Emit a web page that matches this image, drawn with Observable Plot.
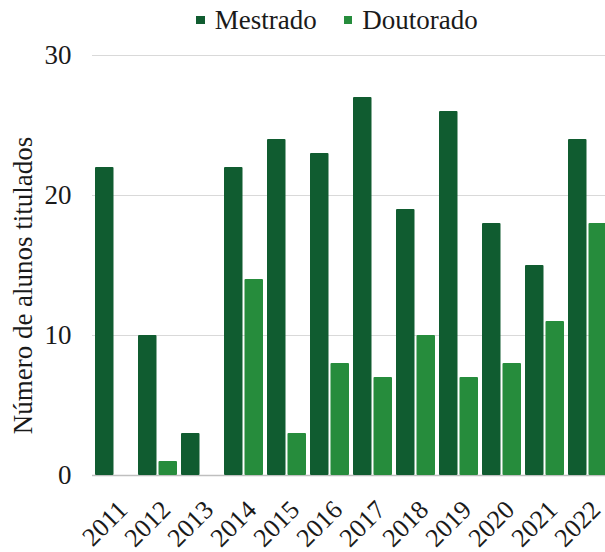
<!DOCTYPE html>
<html><head><meta charset="utf-8">
<script src="https://cdn.jsdelivr.net/npm/d3@7"></script>
<script src="https://cdn.jsdelivr.net/npm/@observablehq/plot@0.6"></script>
<style>
html,body{margin:0;padding:0;background:#fff;overflow:hidden;width:605px;height:552px}
body{font-family:"Liberation Serif","Times New Roman",Tinos,"DejaVu Serif",serif;color:#1a1a1a}
#legend{height:40px;display:flex;justify-content:center;align-items:center;gap:27px;font-size:27px;padding-left:69px;box-sizing:border-box;width:605px}
#legend .it{display:flex;align-items:center;gap:10px}
#legend .sw{width:8.5px;height:8.5px;display:inline-block}
#chart{width:605px;overflow:hidden}
#chart svg{display:block;max-width:none !important}
</style></head>
<body>
<div id="legend"></div>
<div id="chart"></div>
<script>
const years = ["2011","2012","2013","2014","2015","2016","2017","2018","2019","2020","2021","2022"];
const mestrado = [22,10,3,22,24,23,27,19,26,18,15,24];
const doutorado = [0,1,0,14,3,8,7,10,7,8,11,18];
const seriesNames = ["Mestrado","Doutorado"];
const colors = ["#105c30","#268c3c"];
const yTicks = [0,10,20,30];
const yLabel = "Número de alunos titulados";
const FONT = '"Liberation Serif","Times New Roman",Tinos,"DejaVu Serif",serif';

const legend = document.getElementById("legend");
seriesNames.forEach((n,i)=>{
  const it = document.createElement("span"); it.className="it";
  const sw = document.createElement("span"); sw.className="sw"; sw.style.background=colors[i];
  const tx = document.createElement("span"); tx.textContent=n;
  it.append(sw,tx); legend.append(it);
});

const mData = years.map((y,i)=>({year:y, series:seriesNames[0], value:mestrado[i]}));
const dData = years.map((y,i)=>({year:y, series:seriesNames[1], value:doutorado[i]}));

const chart = Plot.plot({
  width: 611,
  height: 512,
  marginLeft: 92,
  marginRight: 2,
  marginTop: 15,
  marginBottom: 77,
  style: {fontFamily: FONT, color: "#1a1a1a", background: "#fff", maxWidth: "none"},
  x: {domain: years, paddingInner: 0.102, paddingOuter: 0, label: null},
  y: {domain: [0,30], label: null},
  color: {domain: seriesNames, range: colors},
  marks: [
    Plot.gridY(yTicks.filter(d=>d>0), {stroke:"#d9d9d9", strokeOpacity:1, strokeWidth:1}),
    Plot.ruleY([0], {stroke:"#bfbfbf", strokeWidth:1.5}),
    Plot.barY(mData, {x:"year", y:"value", fill:"series", insetRight:20.5, rx:1}),
    Plot.barY(dData, {x:"year", y:"value", fill:"series", insetLeft:20.5, rx:1}),
    Plot.axisY({ticks: yTicks, tickSize: 0, tickPadding: 21, fontSize: 27, label: null}),
    Plot.axisX({tickSize: 0, tickRotate: -45, fontSize: 26, tickPadding: 10, dx: 8, dy: 20, label: null}),
    Plot.text([yLabel], {frameAnchor:"left", dx:-69, dy:20, rotate:-90, fontSize:27, fill:"#1a1a1a", textAnchor:"middle", lineAnchor:"middle"})
  ]
});
document.getElementById("chart").append(chart);
</script>
</body></html>
